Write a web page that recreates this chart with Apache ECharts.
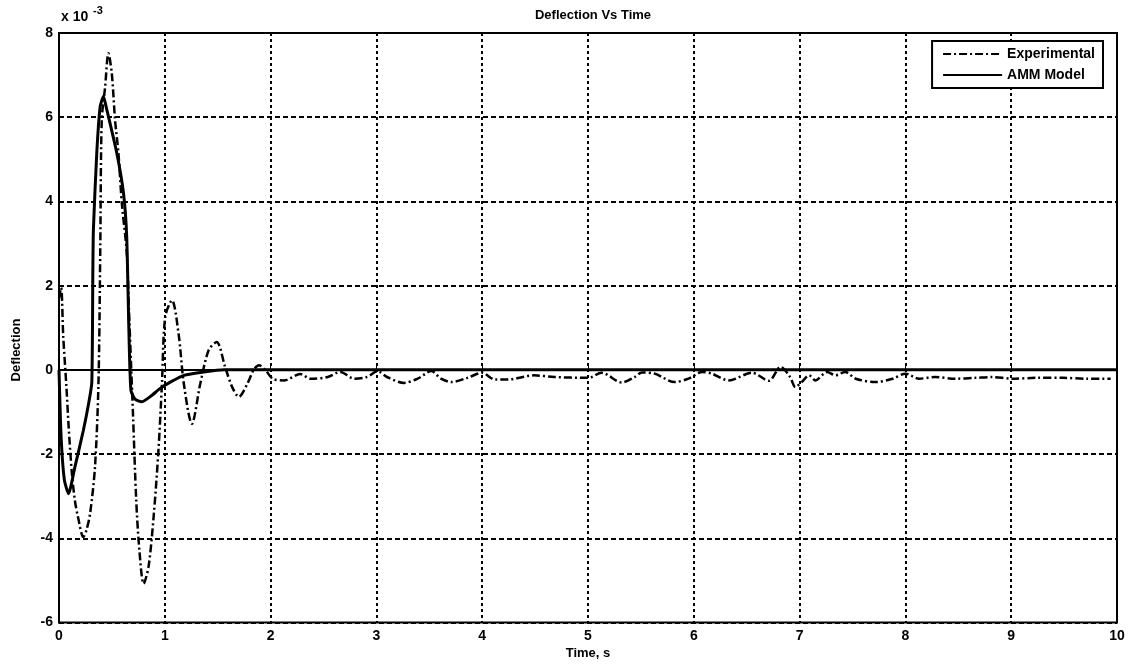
<!DOCTYPE html>
<html>
<head>
<meta charset="utf-8">
<script src="https://cdn.jsdelivr.net/npm/echarts@6/dist/echarts.min.js"></script>
<style>html,body{margin:0;padding:0;background:#fff}#c{width:1131px;height:666px}</style>
</head>
<body>
<div id="c"></div>
<script>
// Values in units of 1e-3
const expT = [0,0.02,0.04,0.07,0.09,0.12,0.15,0.18,0.23,0.26,0.294,0.34,0.373,0.39,0.404,0.436,0.467,0.499,0.53,0.562,0.594,0.64,0.66,0.68,0.70,0.73,0.76,0.8,0.846,0.894,0.94,0.973,1.004,1.068,1.13,1.18,1.256,1.336,1.415,1.49,1.57,1.637,1.7,1.78,1.84,1.89,1.95,2.02,2.13,2.28,2.38,2.54,2.66,2.79,2.91,3.01,3.1,3.26,3.39,3.52,3.61,3.71,3.86,4.0,4.12,4.24,4.49,4.68,5.0,5.13,5.32,5.44,5.51,5.63,5.82,5.95,6.08,6.17,6.33,6.55,6.71,6.82,6.91,6.96,7.02,7.09,7.15,7.26,7.34,7.43,7.53,7.72,7.88,8.0,8.13,8.28,8.47,8.66,8.82,9.01,9.24,9.49,9.71,9.94];
const expY = [1.7,1.95,0.8,-0.4,-1.3,-2.4,-3.1,-3.5,-3.97,-3.8,-3.41,-2.31,-0.32,2.84,5.93,6.72,7.52,7.04,5.93,5.14,3.95,2.8,1.5,0.2,-1.1,-3.1,-4.29,-5.08,-4.68,-3.5,-1.91,-0.33,1.26,1.65,0.86,-0.33,-1.28,-0.32,0.47,0.66,0.07,-0.41,-0.64,-0.33,0,0.11,0,-0.21,-0.25,-0.1,-0.21,-0.17,-0.05,-0.21,-0.17,-0.03,-0.17,-0.31,-0.21,-0.03,-0.21,-0.29,-0.19,-0.07,-0.23,-0.23,-0.13,-0.17,-0.19,-0.07,-0.3,-0.17,-0.06,-0.09,-0.29,-0.21,-0.05,-0.09,-0.25,-0.07,-0.26,0.07,-0.17,-0.41,-0.29,-0.13,-0.25,-0.05,-0.13,-0.05,-0.21,-0.29,-0.21,-0.09,-0.21,-0.17,-0.21,-0.19,-0.17,-0.21,-0.19,-0.19,-0.21,-0.21];
const ammT = [0,0.02,0.05,0.09,0.15,0.23,0.28,0.31,0.32,0.325,0.357,0.389,0.42,0.45,0.547,0.61,0.64,0.66,0.68,0.72,0.78,0.87,0.957,1.06,1.18,1.37,1.56,2,3,4,5,6,7,8,9,10];
const ammY = [0,-1.6,-2.6,-2.94,-2.31,-1.44,-0.8,-0.3,2.37,3.32,5.15,6.25,6.49,6.2,5.14,4.19,3.16,1.0,-0.49,-0.7,-0.76,-0.62,-0.44,-0.28,-0.13,-0.05,0,0,0,0,0,0,0,0,0,0];
const seriesNames = ['Experimental','AMM Model'];
const titleText = 'Deflection Vs Time';
const xName = 'Time, s';
const yName = 'Deflection';

const pair = (t, y) => t.map((v, i) => [v, y[i]]);
const font = 'Arial, "Liberation Sans", Helvetica, sans-serif';
const chart = echarts.init(document.getElementById('c'));
chart.setOption({
  animation: false,
  backgroundColor: '#fff',
  title: { text: titleText, left: 588, textAlign: 'center', top: 4,
    textStyle: { fontFamily: font, fontSize: 13, fontWeight: 'bold', color: '#000' } },
  grid: { left: 59, top: 33, width: 1058, height: 589.5, show: true, borderColor: '#000', borderWidth: 2, backgroundColor: 'transparent' },
  legend: {
    right: 28, top: 41, orient: 'vertical', backgroundColor: '#fff',
    borderColor: '#000', borderWidth: 2, borderRadius: 0,
    padding: [6, 8, 6, 10], itemGap: 7, itemWidth: 59, itemHeight: 14,
    itemStyle: { opacity: 0 },
    textStyle: { fontFamily: font, fontSize: 14, fontWeight: 'bold', color: '#000' },
    data: seriesNames
  },
  xAxis: {
    type: 'value', min: 0, max: 10, interval: 1,
    axisLine: { lineStyle: { color: '#000', width: 2 } },
    axisTick: { inside: true, length: 5, lineStyle: { color: '#000', width: 1 } },
    axisLabel: { fontFamily: font, fontSize: 14, fontWeight: 'bold', color: '#000', margin: 7 },
    splitLine: { lineStyle: { color: '#000', width: 2, type: [3, 3] } }
  },
  yAxis: {
    type: 'value', min: -6, max: 8, interval: 2,
    axisLine: { lineStyle: { color: '#000', width: 2 } },
    axisTick: { inside: true, length: 5, lineStyle: { color: '#000', width: 1 } },
    axisLabel: { fontFamily: font, fontSize: 14, fontWeight: 'bold', color: '#000', margin: 6 },
    splitLine: { lineStyle: { color: '#000', width: 2, type: [5, 3] } }
  },
  graphic: [
    { type: 'text', left: 61, top: 10, style: { text: 'x 10', font: 'bold 14px ' + font, fill: '#000' } },
    { type: 'text', left: 93, top: 5, style: { text: '-3', font: 'bold 11px ' + font, fill: '#000' } },
    { type: 'text', x: 588, y: 653, style: { text: xName, font: 'bold 13px ' + font, fill: '#000', align: 'center', verticalAlign: 'middle' } },
    { type: 'text', x: 16, y: 350, rotation: Math.PI / 2, style: { text: yName, font: 'bold 13px ' + font, fill: '#000', align: 'center', verticalAlign: 'middle' } }
  ],
  series: [
    { name: seriesNames[0], type: 'line', data: pair(expT, expY), symbol: 'none', smooth: 0.3,
      lineStyle: { color: '#000', width: 2.5, type: [8, 3, 2, 3] }, itemStyle: { color: '#000' }, z: 3 },
    { name: seriesNames[1], type: 'line', data: pair(ammT, ammY), symbol: 'none', smooth: 0.2,
      lineStyle: { color: '#000', width: 3 }, itemStyle: { color: '#000' }, z: 4 }
  ]
});
</script>
</body>
</html>
